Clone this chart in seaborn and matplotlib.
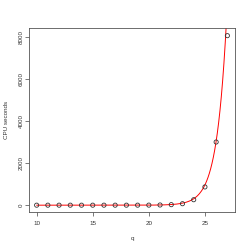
import numpy as np
import pandas as pd
import matplotlib
matplotlib.use("Agg")
import matplotlib.pyplot as plt
import seaborn as sns

# measured run times
q = [10, 11, 12, 13, 14, 15, 16, 17, 18, 19, 20, 21, 22, 23, 24, 25, 26, 27]
cpu = [0.01, 0.01, 0.01, 0.01, 0.01, 0.02, 0.05, 0.15, 0.4, 1, 3, 9, 25,
       70, 260, 870, 3010, 8080]

# exponential fit drawn in red: cpu = fit_c * exp(fit_b * (q - 26))
fit_c = 3050
fit_b = 1.15

x_ticks = [10, 15, 20, 25]
y_ticks = [0, 2000, 4000, 6000, 8000]

sns.set_style("ticks")
plt.rcParams['font.family'] = ['Liberation Sans', 'DejaVu Sans']

df = pd.DataFrame({"q": q, "cpu": cpu})
qq = np.linspace(10, 27.7, 300)
fit_df = pd.DataFrame({"q": qq, "cpu": fit_c * np.exp(fit_b * (qq - 26))})

fig = plt.figure(figsize=(2.49, 2.49), dpi=100)
ax = fig.add_axes([29 / 249, 37 / 249, 206 / 249, 184 / 249])

sns.scatterplot(data=df, x="q", y="cpu", ax=ax, marker="o", s=9,
                facecolor="none", edgecolor="#333333", linewidth=0.6, zorder=3)
sns.lineplot(data=fit_df, x="q", y="cpu", ax=ax, color="red", linewidth=0.7,
             zorder=2)

ax.set_xlim(9.32, 27.68)
ax.set_ylim(-325, 8445)
ax.set_xticks(x_ticks)
ax.set_yticks(y_ticks)
ax.set_xticklabels([str(t) for t in x_ticks], fontsize=4.5, color="#333333")
ax.set_yticklabels([str(t) for t in y_ticks], fontsize=4.5, color="#333333",
                   rotation=90, va="center")
ax.tick_params(length=3, width=0.5, color="#444444")
ax.tick_params(axis="x", pad=3.5)
ax.tick_params(axis="y", pad=1)
for s in ax.spines.values():
    s.set_visible(True)
    s.set_linewidth(0.6)
    s.set_color("#555555")
ax.set_xlabel("q", fontsize=4.5, color="#333333", labelpad=7)
ax.set_ylabel("CPU seconds", fontsize=4.5, color="#333333", labelpad=7)

fig.savefig("out.png", dpi=100)
